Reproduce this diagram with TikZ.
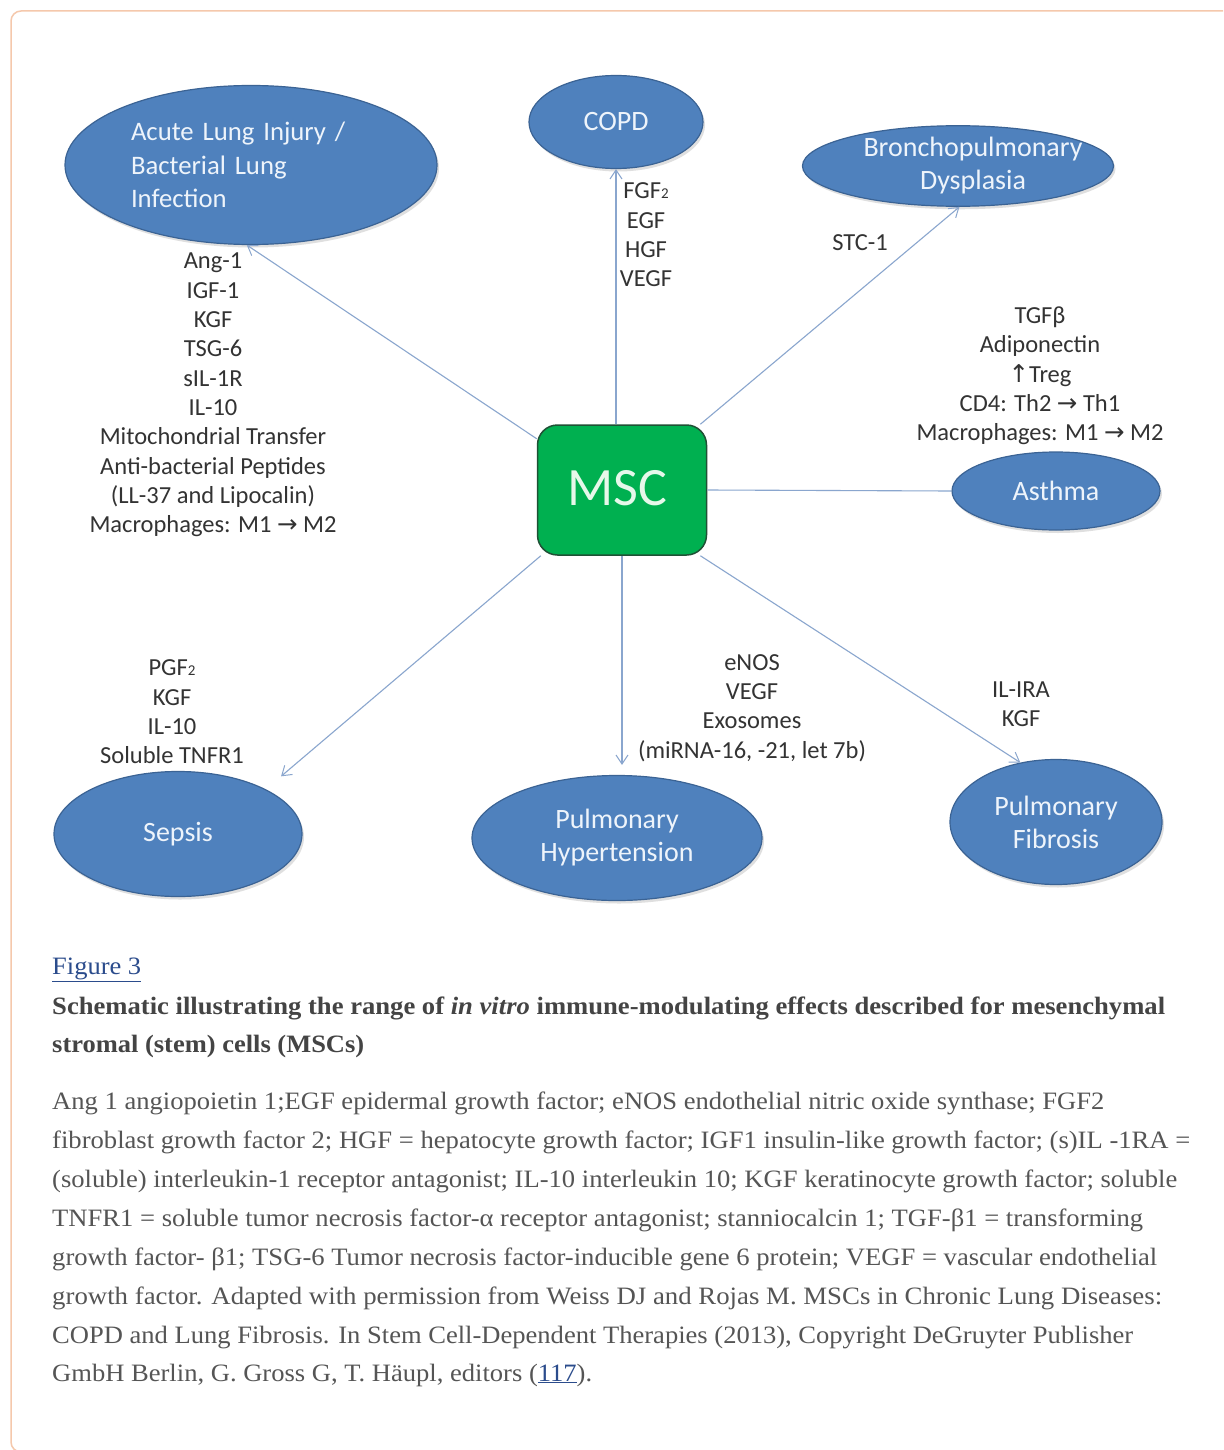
\documentclass[tikz,border=0pt]{standalone}
\usepackage{fontspec}
\usepackage{graphicx}
\setmainfont{Liberation Serif}
\newfontfamily\carl{Carlito}
\newfontfamily\symf{DejaVu Sans}
\usetikzlibrary{shapes.geometric,arrows.meta,shadows,calc}
\definecolor{ellfill}{HTML}{4F81BD}
\definecolor{elldraw}{HTML}{3B6394}
\definecolor{elltext}{HTML}{EEF4FB}
\definecolor{mscfill}{HTML}{00B050}
\definecolor{mscdraw}{HTML}{1F5135}
\definecolor{msctext}{HTML}{E6F8EA}
\definecolor{connc}{HTML}{8AA6CE}
\definecolor{lblc}{HTML}{333333}
\definecolor{framec}{HTML}{F5C8AC}
\definecolor{linkc}{HTML}{2B4C8C}
\definecolor{captc}{HTML}{444444}
\definecolor{bodyc}{HTML}{555555}
\tikzset{
  ell/.style={ellipse, fill=ellfill, draw=elldraw, line width=1.2pt, text=elltext,
    font=\carl\fontsize{28}{33}\selectfont, align=center, inner sep=0pt,
    drop shadow={shadow xshift=2pt, shadow yshift=-3pt, opacity=0.25}},
  mscbox/.style={rectangle, rounded corners=20pt, fill=mscfill, draw=mscdraw, line width=1.5pt,
    minimum width=169pt, minimum height=130pt, text=msctext, font=\carl\fontsize{54}{54}\selectfont},
  lab/.style={text=lblc, font=\carl\fontsize{24.5}{29.3}\selectfont, align=center, inner sep=0pt},
  cn/.style={draw=connc, line width=1.1pt},
  arr/.style={cn, -{Straight Barb[length=9pt,width=12pt,line width=1pt]}},
  capfig/.style={anchor=base west, inner sep=0pt, text=linkc, font=\fontsize{25}{28}\selectfont},
  captitle/.style={anchor=base west, inner sep=0pt, text=captc, font=\bfseries\fontsize{25}{28}\selectfont},
  capbody/.style={anchor=base west, inner sep=0pt, text=bodyc, font=\fontsize{25}{28}\selectfont}
}
\newcommand{\sm}[1]{{\fontsize{15}{15}\selectfont #1}}
\newcommand{\fitw}[2]{\resizebox{#1pt}{\height}{#2}}
\newcommand{\offx}[2]{\makebox[0pt]{\hspace*{#1}#2}}
\begin{document}
\begin{tikzpicture}[x=1pt,y=-1pt]
\useasboundingbox (0,0) rectangle (1223,1450);
\fill[white] (0,0) rectangle (1223,1450);
\begin{scope}
\clip (0,0) rectangle (1223,1450);
\draw[framec, line width=1.5pt, rounded corners=10pt] (11,11) rectangle (1260,1452);
\end{scope}

% disease ellipses
\node[ell, minimum width=372pt, minimum height=159pt, text width=240pt, align=left, font=\carl\fontsize{26.7}{33.5}\selectfont] (ali) at (251,165) {Acute Lung Injury /\\Bacterial Lung\\Infection};
\node[ell, minimum width=174pt, minimum height=93pt] (copd) at (616,122) {COPD};
\node[ell, minimum width=311pt, minimum height=80pt] (bpd) at (958,166) {\offx{30pt}{Bronchopulmonary}\\\offx{30pt}{Dysplasia}};
\node[ell, minimum width=208pt, minimum height=78pt] (asthma) at (1056,491) {Asthma};
\node[ell, minimum width=248pt, minimum height=125pt] (sepsis) at (178,834) {Sepsis};
\node[ell, minimum width=290pt, minimum height=125pt] (ph) at (617,838) {Pulmonary\\Hypertension};
\node[ell, minimum width=212pt, minimum height=125pt] (pf) at (1056,822) {Pulmonary\\Fibrosis};

% centre
\node[mscbox] (msc) at (622,490) {\raisebox{5pt}{\offx{-10pt}{MSC}}};

% connectors
\draw[arr] (msc.149) -- (ali.267);
\draw[arr] (msc.north -| copd.south) -- (copd.south);
\draw[arr] (msc.40) -- (bpd.272);
\draw[cn] (msc.east) -- (asthma.west);
\draw[arr, shorten >=20pt] (msc.219) -- (sepsis.27);
\draw[arr, shorten >=10pt] (msc.south) -- (msc.south |- ph.north);
\draw[arr] (msc.-40) -- (pf.121);

% labels
\node[lab] (lali) at (213,395) {Ang-1\\IGF-1\\KGF\\TSG-6\\sIL-1R\\IL-10\\Mitochondrial Transfer\\Anti-bacterial Peptides\\(LL-37 and Lipocalin)\\Macrophages: M1 {\symf→} M2};
\node[lab] (lcopd) at (646,235) {FGF\sm{2}\\EGF\\HGF\\VEGF};
\node[lab] (lbpd) at (860,243) {STC-1};
\node[lab] (lasthma) at (1040,376) {TGFβ\\Adiponectin\\{\symf↑}Treg\\CD4: Th2 {\symf→} Th1\\Macrophages: M1 {\symf→} M2};
\node[lab] (lsepsis) at (172,712) {PGF\sm{2}\\KGF\\IL-10\\Soluble TNFR1};
\node[lab] (lph) at (752,708) {eNOS\\VEGF\\Exosomes\\(miRNA-16, -21, let 7b)};
\node[lab] (lpf) at (1021,704) {IL-IRA\\KGF};

% caption
\node[capfig] (fig) at (52,974) {\fitw{89}{\underline{Figure 3}}};
\node[captitle] (t1) at (52,1014) {\fitw{1113}{Schematic illustrating the range of \textit{in vitro} immune-modulating effects described for mesenchymal}};
\node[captitle] (t2) at (52,1052) {\fitw{312}{stromal (stem) cells (MSCs)}};
\node[capbody] (b1) at (52,1109) {\fitw{1052}{Ang 1 angiopoietin 1;EGF epidermal growth factor; eNOS endothelial nitric oxide synthase; FGF2}};
\node[capbody] (b2) at (52,1148) {\fitw{1138}{fibroblast growth factor 2; HGF = hepatocyte growth factor; IGF1 insulin-like growth factor; (s)IL -1RA =}};
\node[capbody] (b3) at (52,1187) {\fitw{1125}{(soluble) interleukin-1 receptor antagonist; IL-10 interleukin 10; KGF keratinocyte growth factor; soluble}};
\node[capbody] (b4) at (52,1226) {\fitw{1091}{TNFR1 = soluble tumor necrosis factor-α receptor antagonist; stanniocalcin 1; TGF-β1 = transforming}};
\node[capbody] (b5) at (52,1265) {\fitw{1105}{growth factor- β1; TSG-6 Tumor necrosis factor-inducible gene 6 protein; VEGF = vascular endothelial}};
\node[capbody] (b6) at (52,1304) {\fitw{1110}{growth factor. Adapted with permission from Weiss DJ and Rojas M. MSCs in Chronic Lung Diseases:}};
\node[capbody] (b7) at (52,1343) {\fitw{1081}{COPD and Lung Fibrosis. In Stem Cell-Dependent Therapies (2013), Copyright DeGruyter Publisher}};
\node[capbody] (b8) at (52,1381) {\fitw{540}{GmbH Berlin, G. Gross G, T. Häupl, editors ({\color{linkc}\underline{117}}).}};
\end{tikzpicture}
\end{document}
